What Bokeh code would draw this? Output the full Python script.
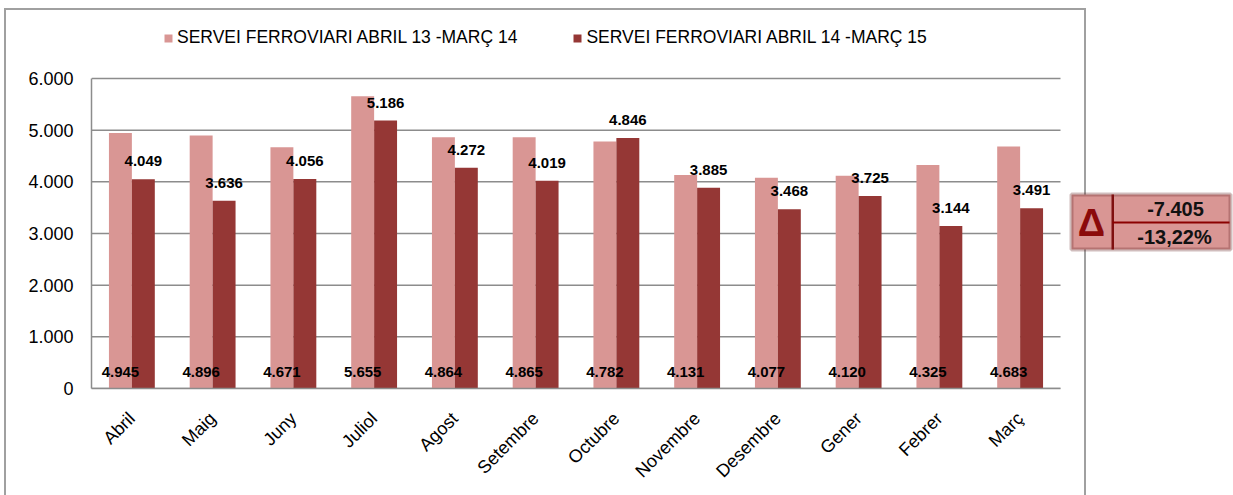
from bokeh.plotting import figure
from bokeh.models import (ColumnDataSource, Legend, LegendItem, BoxAnnotation, Label,
                          CustomJSTickFormatter, FixedTicker, Range1d)
from bokeh.transform import dodge
from bokeh.embed import file_html
from bokeh.resources import INLINE
from bokeh.core.properties import value

months = ["Abril", "Maig", "Juny", "Juliol", "Agost", "Setembre", "Octubre",
          "Novembre", "Desembre", "Gener", "Febrer", "Març"]
serie_13_14 = [4945, 4896, 4671, 5655, 4864, 4865, 4782, 4131, 4077, 4120, 4325, 4683]
serie_14_15 = [4049, 3636, 4056, 5186, 4272, 4019, 4846, 3885, 3468, 3725, 3144, 3491]
series_names = ["SERVEI FERROVIARI ABRIL 13 -MARÇ 14", "SERVEI FERROVIARI ABRIL 14 -MARÇ 15"]
y_ticks = [0, 1000, 2000, 3000, 4000, 5000, 6000]
delta_abs = "-7.405"
delta_pct = "-13,22%"

PINK = "#d99694"
DARK = "#953735"
FONT = "Liberation Sans"

# ---- layout (pixels) ----
W, H = 1233, 495
FL, FT, FR, FB = 91, 0, 1233, 388      # frame box
AX_RIGHT = 1060                          # end of the category area
AX_TOP = 78                              # pixel row of 6.000
Y_MAX = y_ticks[-1]
PX_PER_CAT = (AX_RIGHT - FL) / len(months)
PX_PER_UNIT_Y = (FB - AX_TOP) / Y_MAX


def dx(px):
    return (px - FL) / PX_PER_CAT


def dy(py):
    return (FB - py) / PX_PER_UNIT_Y


def fmt(v):
    return f"{v:,}".replace(",", ".")


n = len(months)
src = ColumnDataSource(dict(
    xc=[i + 0.5 for i in range(n)],
    a=serie_13_14,
    b=serie_14_15,
    a_lbl=[fmt(v) for v in serie_13_14],
    b_lbl=[fmt(v) for v in serie_14_15],
    zero=[0] * n,
))

p = figure(x_range=Range1d(0, dx(FR)), y_range=Range1d(0, dy(FT)),
           width=W, height=H, output_backend="svg", toolbar_location=None,
           min_border_left=FL, min_border_top=FT, min_border_right=W - FR,
           min_border_bottom=H - FB)
p.outline_line_color = None
p.background_fill_alpha = 0
p.border_fill_alpha = 0
# outer chart border (drawn as CSS background behind the transparent canvas)
g = "linear-gradient(#a0a0a0,#a0a0a0)"
p.styles = {
    "background-image": f"{g},{g},{g}",
    "background-size": "2px 500px, 1082px 2px, 2px 500px",
    "background-position": "4px 8px, 4px 8px, 1084px 8px",
    "background-repeat": "no-repeat",
}

# horizontal grid lines at the y ticks, across the category area only
p.segment(x0=[0] * len(y_ticks), x1=[n] * len(y_ticks), y0=y_ticks, y1=y_ticks,
          line_color="#8c8c8c", line_width=1.5)
p.xgrid.grid_line_color = None
p.ygrid.grid_line_color = None

OFF = 0.142
BW = 0.284
r1 = p.vbar(x=dodge("xc", -OFF), top="a", width=BW,
            source=src, fill_color=PINK, line_color=None)
r2 = p.vbar(x=dodge("xc", OFF), top="b", width=BW,
            source=src, fill_color=DARK, line_color=None)

p.text(x=dodge("xc", -OFF), y="zero", text="a_lbl", source=src,
       text_font=value(FONT), text_font_style="bold", text_font_size="15px",
       text_align="center", text_baseline="middle", y_offset=-17, text_color="black")
p.text(x=dodge("xc", OFF), y="b", text="b_lbl", source=src,
       text_font=value(FONT), text_font_style="bold", text_font_size="15px",
       text_align="center", text_baseline="middle", y_offset=-18, text_color="black")

# y axis
p.yaxis.ticker = FixedTicker(ticks=y_ticks)
p.yaxis.bounds = (0, Y_MAX)
p.yaxis.formatter = CustomJSTickFormatter(
    code="return tick.toString().replace(/\\B(?=(\\d{3})+(?!\\d))/g, '.');")
p.yaxis.major_tick_line_color = None
p.yaxis.major_tick_out = 0
p.yaxis.major_tick_in = 0
p.yaxis.minor_tick_line_color = None
p.yaxis.major_label_standoff = 18
p.yaxis.major_label_text_font = FONT
p.yaxis.major_label_text_font_size = "18px"
p.yaxis.major_label_text_color = "black"
p.yaxis.axis_line_color = "#8c8c8c"
p.yaxis.axis_line_width = 1.5

# x axis (months at category centres)
p.xaxis.ticker = FixedTicker(ticks=[i + 0.5 for i in range(n)])
p.xaxis.bounds = (0, n)
p.xaxis.formatter = CustomJSTickFormatter(
    args=dict(months=months), code="return months[Math.floor(tick)];")
p.xaxis.major_tick_line_color = None
p.xaxis.major_tick_out = 0
p.xaxis.major_tick_in = 0
p.xaxis.minor_tick_line_color = None
p.xaxis.major_label_orientation = 0.785398
p.xaxis.major_label_standoff = 27
p.xaxis.major_label_text_font = FONT
p.xaxis.major_label_text_font_size = "18px"
p.xaxis.major_label_text_color = "black"
p.xaxis.axis_line_color = "#8c8c8c"
p.xaxis.axis_line_width = 1.5

# legend
legend = Legend(items=[LegendItem(label=series_names[0], renderers=[r1]),
                       LegendItem(label=series_names[1], renderers=[r2])],
                orientation="horizontal", location=(163 - FL, FB - 48),
                glyph_width=10, glyph_height=10, label_standoff=4, spacing=55,
                padding=0, margin=0, label_text_font=FONT,
                label_text_font_size="17.5px", label_text_color="black",
                border_line_color=None, background_fill_alpha=0, label_height=20)
p.add_layout(legend, "center")

# delta box
p.add_layout(BoxAnnotation(left=dx(1071), right=dx(1230), top=dy(194), bottom=dy(249),
                           fill_color=PINK, fill_alpha=1, line_color="#632523",
                           line_width=4))
p.add_layout(BoxAnnotation(left=dx(1111), right=dx(1113.5), top=dy(194), bottom=dy(249),
                           fill_color="#7f1010", fill_alpha=1, line_color=None))
p.add_layout(BoxAnnotation(left=dx(1112), right=dx(1229), top=dy(221), bottom=dy(223),
                           fill_color="#8b0000", fill_alpha=1, line_color=None))
p.add_layout(Label(x=dx(1091), y=dy(222), text="Δ",
                   text_font=FONT, text_font_style="bold", text_font_size="38px",
                   text_color="#8b0a0a", text_align="center", text_baseline="middle"))
p.add_layout(Label(x=dx(1175), y=dy(208), text=delta_abs,
                   text_font=FONT, text_font_style="bold", text_font_size="20px",
                   text_color="#111111", text_align="center", text_baseline="middle"))
p.add_layout(Label(x=dx(1174), y=dy(236), text=delta_pct,
                   text_font=FONT, text_font_style="bold", text_font_size="20px",
                   text_color="#111111", text_align="center", text_baseline="middle"))

open("out.html", "w").write(file_html(p, INLINE))
